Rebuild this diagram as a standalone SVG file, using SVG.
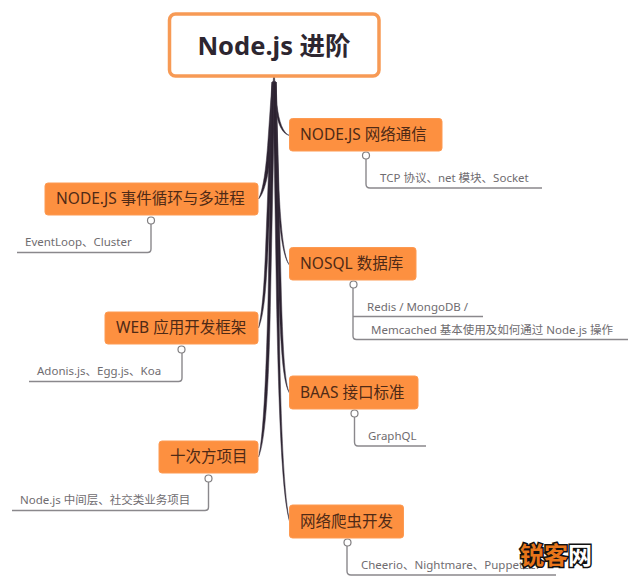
<svg xmlns="http://www.w3.org/2000/svg" width="640" height="587" viewBox="0 0 640 587">
<defs><style>
text{font-family:"Noto Sans","Noto Sans CJK SC","Liberation Sans",sans-serif}
.n{fill:#fd9040;stroke:#fd9a52;stroke-width:1}
.t{font-size:15.500px;fill:#4f2a16}
.s{font-size:11.500px;fill:#6f6c70}
.b{fill:#2c2230;stroke:#3a3240;stroke-width:.5}
.l{fill:none;stroke:#8a888c;stroke-width:1.400}
.h{fill:#fff;stroke:#807e80;stroke-width:1.200}
</style></defs>
<rect width="640" height="587" fill="#fff"/>
<g id="connectors">
<path class="b" d="M273.500 77H274.500L276 100H272Z"/>
<path class="b" d="M276 82L277 105C279 122 283 133 289.500 135.500C282 134 277 123 275 105Z"/>
<path class="b" d="M276 82L272 140C270 170 265 193 258.500 199C263 190 266 170 268 140L272 82Z"/>
<path class="b" d="M276 82L279 190C281 230 284 258 289.500 265C283 258 279.500 230 277 190L273 82Z"/>
<path class="b" d="M275 82L268 250C266 290 264 315 258.500 328C262 312 264 290 265.500 250L272 82Z"/>
<path class="b" d="M275 82L270.500 300C269 380 266 440 258.500 457C263 440 266 380 268 300L272 82Z"/>
<path class="b" d="M276 82L281.500 300C283 350 285 385 289.500 393C283 383 281 350 279 300L273 82Z"/>
<path class="b" d="M276 82L279 300C280 400 283 490 289.500 521C281.500 495 278.500 400 276.500 300L273 82Z"/>
<path class="l" d="M366 159V184Q366 188 370 188H542"/>
<path class="l" d="M151 224V249Q151 252.500 147.500 252.500H17"/>
<path class="l" d="M182 353V378Q182 381.500 178.500 381.500H29"/>
<path class="l" d="M208.500 482V507Q208.500 510.500 205 510.500H12"/>
<path class="l" d="M353 288V336Q353 339.500 356.500 339.500H628M353 316.500H483"/>
<path class="l" d="M354.500 417V442Q354.500 446 358 446H426"/>
<path class="l" d="M347 546V571Q347 575 351 575H556"/>
<circle class="h" cx="366" cy="155.500" r="3.500"/>
<circle class="h" cx="151" cy="220.500" r="3.500"/>
<circle class="h" cx="181.500" cy="349.500" r="3.500"/>
<circle class="h" cx="208.500" cy="478.500" r="3.500"/>
<circle class="h" cx="353.500" cy="284.500" r="3.500"/>
<circle class="h" cx="354.500" cy="413.500" r="3.500"/>
<circle class="h" cx="347.500" cy="542.500" r="3.500"/>
</g>
<g id="root"><rect x="169.500" y="14" width="209.500" height="62" rx="6" fill="#fff" stroke="#f79a55" stroke-width="3.500"/>
<text x="274" y="55" text-anchor="middle" font-size="25.500" font-weight="700" fill="#2d2630">Node.js 进阶</text></g>
<g id="n1"><rect class="n" x="289.500" y="118.500" width="152.500" height="32.500" rx="3"/><text class="t" x="300" y="140">NODE.JS 网络通信</text></g>
<g id="n1s"><text class="s" x="380" y="182">TCP 协议、net 模块、Socket</text></g>
<g id="n2"><rect class="n" x="45" y="183" width="213" height="32" rx="3"/><text class="t" x="56" y="204">NODE.JS 事件循环与多进程</text></g>
<g id="n2s"><text class="s" x="25" y="246">EventLoop、Cluster</text></g>
<g id="n3"><rect class="n" x="289.500" y="247.500" width="126.500" height="32.500" rx="3"/><text class="t" x="300" y="269">NOSQL 数据库</text></g>
<g id="n3s"><text class="s" x="367" y="311">Redis / MongoDB /</text><text class="s" x="371" y="334">Memcached 基本使用及如何通过 Node.js 操作</text></g>
<g id="n4"><rect class="n" x="105" y="312" width="153" height="32" rx="3"/><text class="t" x="116" y="333">WEB 应用开发框架</text></g>
<g id="n4s"><text class="s" x="37" y="375">Adonis.js、Egg.js、Koa</text></g>
<g id="n5"><rect class="n" x="289.500" y="376" width="128.500" height="33" rx="3"/><text class="t" x="300" y="398">BAAS 接口标准</text></g>
<g id="n5s"><text class="s" x="368" y="440">GraphQL</text></g>
<g id="n6"><rect class="n" x="159" y="441" width="99" height="32" rx="3"/><text class="t" x="170" y="462">十次方项目</text></g>
<g id="n6s"><text class="s" x="20" y="504">Node.js 中间层、社交类业务项目</text></g>
<g id="n7"><rect class="n" x="289.500" y="505" width="114" height="33" rx="3"/><text class="t" x="300" y="527">网络爬虫开发</text></g>
<g id="n7s"><text class="s" x="361" y="569">Cheerio、Nightmare、Puppeteer</text></g>
<g id="watermark" font-size="24" font-weight="700" stroke="#111" stroke-width="3" paint-order="stroke"><text x="520" y="564" fill="#e8751a">锐客<tspan fill="#fff">网</tspan></text></g>
</svg>
